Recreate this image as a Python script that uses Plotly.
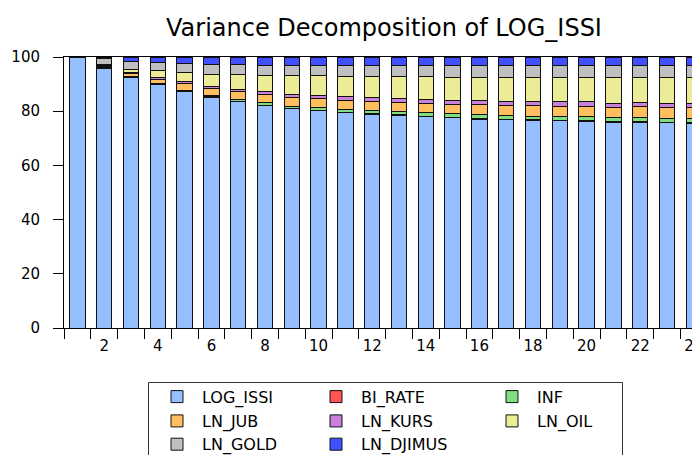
import plotly.graph_objects as go

periods = list(range(1, 25))
x_labels = [str(v) for v in range(2, 25, 2)]

LOG_ISSI = [100.0, 95.8, 92.6, 89.8, 87.2, 85.0, 83.5, 82.0, 80.9, 80.2, 79.4, 78.9,
            78.4, 77.9, 77.5, 77.1, 76.8, 76.6, 76.4, 76.2, 76.0, 75.9, 75.7, 75.5]
BI_RATE = [0.0, 0.3, 0.1, 0.1, 0.2, 0.3, 0.2, 0.2, 0.2, 0.2, 0.2, 0.2,
           0.2, 0.2, 0.2, 0.2, 0.2, 0.2, 0.2, 0.2, 0.2, 0.2, 0.2, 0.2]
INF = [0.0, 0.2, 0.2, 0.3, 0.4, 0.6, 0.7, 0.9, 0.8, 1.0, 1.1, 1.1,
       1.2, 1.4, 1.4, 1.5, 1.3, 1.4, 1.5, 1.5, 1.3, 1.5, 1.4, 1.5]
LN_JUB = [0.0, 0.3, 1.1, 1.6, 2.3, 2.4, 2.8, 3.0, 3.2, 3.3, 3.4, 3.4,
          3.4, 3.4, 3.5, 3.5, 3.8, 3.9, 3.8, 3.8, 4.0, 4.0, 4.1, 4.0]
LN_KURS = [0.0, 0.2, 0.3, 0.6, 0.7, 0.8, 0.8, 1.0, 1.1, 1.2, 1.3, 1.3,
           1.4, 1.5, 1.5, 1.6, 1.5, 1.4, 1.6, 1.7, 1.5, 1.5, 1.4, 1.6]
LN_OIL = [0.0, 0.3, 1.2, 2.5, 3.3, 4.6, 5.5, 6.2, 6.8, 7.1, 7.5, 7.9,
          8.1, 8.3, 8.5, 8.6, 8.9, 9.0, 9.0, 9.1, 9.4, 9.2, 9.5, 9.5]
LN_GOLD = [0.0, 2.2, 3.0, 3.0, 3.5, 3.6, 3.7, 3.7, 4.0, 4.0, 3.9, 4.0,
           4.1, 4.1, 4.2, 4.2, 4.2, 4.2, 4.2, 4.2, 4.3, 4.4, 4.4, 4.4]
LN_DJIMUS = [0.0, 0.7, 1.5, 2.1, 2.4, 2.7, 2.8, 3.0, 3.0, 3.0, 3.2, 3.2,
             3.2, 3.2, 3.2, 3.3, 3.3, 3.3, 3.3, 3.3, 3.3, 3.3, 3.3, 3.3]

series = [
    ("LOG_ISSI", LOG_ISSI, "#96BFFF"),
    ("BI_RATE", BI_RATE, "#FF5555"),
    ("INF", INF, "#80DD80"),
    ("LN_JUB", LN_JUB, "#FFBF5F"),
    ("LN_KURS", LN_KURS, "#C880D8"),
    ("LN_OIL", LN_OIL, "#EDEC96"),
    ("LN_GOLD", LN_GOLD, "#BFBFBF"),
    ("LN_DJIMUS", LN_DJIMUS, "#4050FF"),
]

FONT = "DejaVu Sans"
W, H = 700, 455
OFF = 8  # page body margin offset: visible pixel = figure pixel + OFF

# desired plot area in visible pixels
VL, VT, VB = 64, 57, 328
CAT_W = 26.8
# figure-pixel plot area
PL, PT, PB = VL - OFF, VT - OFF, VB - OFF
PR = W

def px_x(v):  # visible pixel -> paper x
    return (v - OFF - PL) / (PR - PL)

def px_y(v):  # visible pixel -> paper y
    return (PB - (v - OFF)) / (PB - PT)

col_centers = [177, 336, 512]
row_centers = [396.7, 421, 444.3]

fig = go.Figure()
legend_layouts = {}
for i, (name, vals, color) in enumerate(series):
    r, c = divmod(i, 3)
    key = "legend" if i == 0 else f"legend{i+1}"
    fig.add_trace(go.Bar(
        x=periods, y=vals, name=name, width=0.58,
        marker=dict(color=color, line=dict(color="#111111", width=1)),
        legend=key,
    ))
    legend_layouts[key] = dict(
        x=px_x(col_centers[c] - 25), y=px_y(row_centers[r]),
        xanchor="left", yanchor="middle", itemwidth=40,
        bgcolor="rgba(0,0,0,0)", borderwidth=0,
        font=dict(family=FONT, size=16, color="#000000"),
    )

fig.update_layout(
    width=W, height=H,
    margin=dict(l=PL, r=W - PR, t=PT, b=H - PB, autoexpand=False),
    barmode="stack",
    plot_bgcolor="white", paper_bgcolor="white",
    showlegend=True,
    title=dict(text="Variance Decomposition of LOG_ISSI",
               x=px_x(384), xref="paper", xanchor="center",
               y=1 - (28 - OFF) / H, yref="container", yanchor="middle",
               font=dict(family=FONT, size=24, color="#000000")),
    xaxis=dict(
        range=[0.5, 0.5 + (PR - PL) / CAT_W],
        tickmode="array", tickvals=list(range(2, 25, 2)), ticktext=x_labels,
        ticks="", showgrid=False, zeroline=False,
        showline=True, mirror=True, linecolor="#000000", linewidth=1,
        tickfont=dict(family=FONT, size=15, color="#000000"),
        ticklabelstandoff=4, ticklabeloverflow="allow",
        minor=dict(tickmode="array", tickvals=[v + 0.5 for v in range(0, 25)],
                   ticks="outside", ticklen=10, tickcolor="#000000", tickwidth=1,
                   showgrid=False),
    ),
    yaxis=dict(
        range=[0, 100], tickmode="array", tickvals=[0, 20, 40, 60, 80, 100],
        ticks="outside", ticklen=10, tickcolor="#000000", tickwidth=1,
        showgrid=False, zeroline=False,
        showline=True, linecolor="#000000", linewidth=1,
        tickfont=dict(family=FONT, size=15, color="#000000"),
        ticklabelstandoff=10,
    ),
    shapes=[dict(type="rect", xref="paper", yref="paper",
                 x0=px_x(148.5), x1=px_x(622.5), y0=px_y(470), y1=px_y(382.5),
                 line=dict(color="#333333", width=1), fillcolor="rgba(0,0,0,0)")],
    **legend_layouts,
)

fig.write_html("out.html")
